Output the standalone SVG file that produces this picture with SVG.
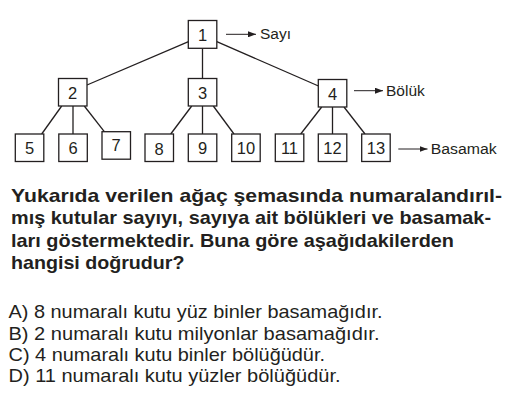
<svg xmlns="http://www.w3.org/2000/svg" width="521" height="419" viewBox="0 0 521 419">
<defs>
<marker id="ah" viewBox="0 0 8 6" refX="8" refY="3" markerWidth="8" markerHeight="6" markerUnits="userSpaceOnUse" orient="auto">
<path d="M0,0 L8,3 L0,6 z" fill="#231f20"/>
</marker>
<style>
.box{fill:#fff;stroke:#231f20;stroke-width:1.3}
.num{font-family:"Liberation Sans",Arial,sans-serif;font-size:16.5px;fill:#231f20;text-anchor:middle}
.lbl{font-family:"Liberation Sans",Arial,sans-serif;font-size:15.5px;fill:#231f20}
.edge{stroke:#231f20;stroke-width:1.3;fill:none}
.arr{stroke:#231f20;stroke-width:1;fill:none;marker-end:url(#ah)}
.q{font-family:"Liberation Sans",Arial,sans-serif;font-size:19px;font-weight:bold;fill:#231f20}
.opt{font-family:"Liberation Sans",Arial,sans-serif;font-size:18.5px;fill:#231f20}
</style>
</defs>
<rect width="521" height="419" fill="#fff"/>
<g id="connectors">
<line class="edge" x1="188.5" y1="41.7" x2="87" y2="85"/>
<line class="edge" x1="202.5" y1="48.3" x2="202.5" y2="78.5"/>
<line class="edge" x1="216.8" y1="41.7" x2="318.5" y2="86"/>
<line class="edge" x1="61.7" y1="106" x2="41.7" y2="134"/>
<line class="edge" x1="73" y1="106" x2="73" y2="134"/>
<line class="edge" x1="84.3" y1="106" x2="104.3" y2="131.7"/>
<line class="edge" x1="191.7" y1="106" x2="170.7" y2="134"/>
<line class="edge" x1="202.5" y1="106" x2="202.5" y2="134"/>
<line class="edge" x1="213.3" y1="106" x2="234" y2="134"/>
<line class="edge" x1="321.7" y1="107" x2="300.7" y2="134"/>
<line class="edge" x1="332.5" y1="107" x2="332.5" y2="134"/>
<line class="edge" x1="344" y1="107" x2="365" y2="134"/>
<line class="arr" x1="226" y1="34.3" x2="256" y2="34.3"/>
<line class="arr" x1="354" y1="90.7" x2="383" y2="90.7"/>
<line class="arr" x1="398.3" y1="149" x2="427.5" y2="149"/>
</g>
<g id="n1"><rect class="box" x="188.3" y="20.5" width="28.5" height="27.8"/><text class="num" x="202.5" y="40.5">1</text></g>
<g id="n2"><rect class="box" x="58.5" y="78.5" width="28.5" height="27.5"/><text class="num" x="72.7" y="98.5">2</text></g>
<g id="n3"><rect class="box" x="188.3" y="78.5" width="28.5" height="27.5"/><text class="num" x="202.5" y="98.5">3</text></g>
<g id="n4"><rect class="box" x="318.3" y="79.5" width="28.5" height="27.5"/><text class="num" x="332.5" y="99.5">4</text></g>
<g id="n5"><rect class="box" x="15.3" y="134" width="28.5" height="27.5"/><text class="num" x="29.5" y="154">5</text></g>
<g id="n6"><rect class="box" x="58.8" y="134" width="28.5" height="27.5"/><text class="num" x="73" y="154">6</text></g>
<g id="n7"><rect class="box" x="102" y="131.7" width="28.5" height="27.5"/><text class="num" x="116.2" y="150.5">7</text></g>
<g id="n8"><rect class="box" x="145" y="134" width="28.5" height="27.5"/><text class="num" x="159.2" y="155">8</text></g>
<g id="n9"><rect class="box" x="188.3" y="134" width="28.5" height="27.5"/><text class="num" x="202.5" y="154">9</text></g>
<g id="n10"><rect class="box" x="231.7" y="134" width="28.5" height="27.5"/><text class="num" x="245.9" y="154">10</text></g>
<g id="n11"><rect class="box" x="275.3" y="134" width="28.5" height="27.5"/><text class="num" x="289.5" y="154">11</text></g>
<g id="n12"><rect class="box" x="318.3" y="134" width="28.5" height="27.5"/><text class="num" x="332.5" y="154">12</text></g>
<g id="n13"><rect class="box" x="361.7" y="134" width="28.5" height="27.5"/><text class="num" x="375.9" y="154">13</text></g>
<g id="labels">
<text class="lbl" x="260" y="38.5">Sayı</text>
<text class="lbl" x="386" y="95.5">Bölük</text>
<text class="lbl" x="430.7" y="154.3" textLength="66" lengthAdjust="spacingAndGlyphs">Basamak</text>
</g>
<g id="question">
<text class="q" x="11" y="201.5" textLength="491" lengthAdjust="spacingAndGlyphs">Yukarıda verilen ağaç şemasında numaralandırıl-</text>
<text class="q" x="11" y="224" textLength="480" lengthAdjust="spacingAndGlyphs">mış kutular sayıyı, sayıya ait bölükleri ve basamak-</text>
<text class="q" x="11" y="246.5" textLength="443" lengthAdjust="spacingAndGlyphs">ları göstermektedir. Buna göre aşağıdakilerden</text>
<text class="q" x="11" y="269" textLength="173.5" lengthAdjust="spacingAndGlyphs">hangisi doğrudur?</text>
</g>
<g id="options">
<text class="opt" x="8.5" y="318.3" textLength="374" lengthAdjust="spacingAndGlyphs">A) 8 numaralı kutu yüz binler basamağıdır.</text>
<text class="opt" x="8.5" y="339.7" textLength="371" lengthAdjust="spacingAndGlyphs">B) 2 numaralı kutu milyonlar basamağıdır.</text>
<text class="opt" x="8.5" y="360.8" textLength="316.5" lengthAdjust="spacingAndGlyphs">C) 4 numaralı kutu binler bölüğüdür.</text>
<text class="opt" x="8.5" y="382" textLength="332" lengthAdjust="spacingAndGlyphs">D) 11 numaralı kutu yüzler bölüğüdür.</text>
</g>
</svg>
